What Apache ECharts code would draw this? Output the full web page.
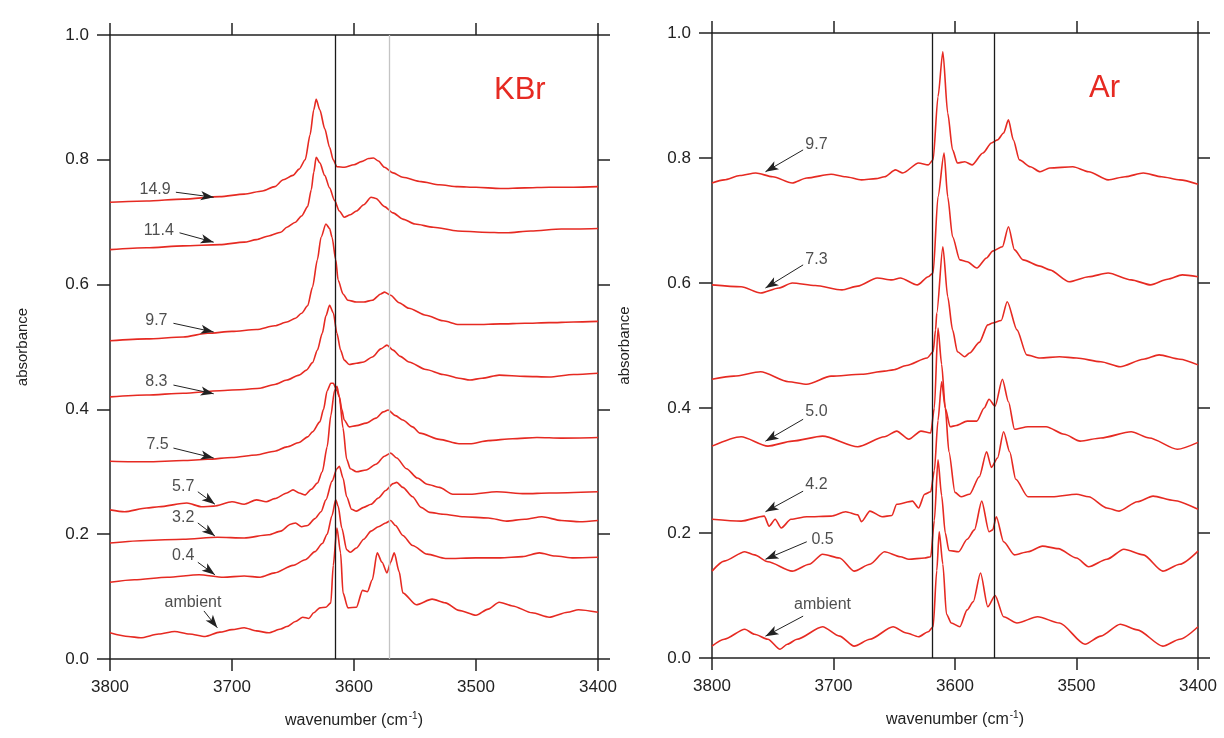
<!DOCTYPE html>
<html>
<head>
<meta charset="utf-8">
<script src="https://cdn.jsdelivr.net/npm/echarts@6/dist/echarts.min.js"></script>
<style>
  html, body { margin: 0; padding: 0; background: #fff; }
  #chart { width: 1224px; height: 738px; }
</style>
</head>
<body>
<div id="chart"></div>
<script>
// ---- KBr panel: [wavenumber, absorbance] ----
var kbr149 = [[3800,0.732],[3770,0.734],[3740,0.737],[3710,0.741],[3690,0.745],[3675,0.750],[3665,0.757],[3658,0.768],[3650,0.775],[3645,0.785],[3640,0.800],[3636,0.840],[3633,0.880],[3631,0.897],[3628,0.880],[3624,0.850],[3620,0.820],[3617,0.800],[3614,0.789],[3608,0.788],[3600,0.792],[3594,0.797],[3588,0.802],[3584,0.803],[3580,0.798],[3575,0.788],[3568,0.779],[3560,0.772],[3545,0.765],[3530,0.760],[3515,0.757],[3500,0.756],[3480,0.754],[3460,0.755],[3440,0.756],[3420,0.756],[3400,0.757]];
var kbr114 = [[3800,0.656],[3770,0.659],[3740,0.662],[3710,0.664],[3690,0.668],[3680,0.672],[3670,0.678],[3660,0.684],[3655,0.692],[3648,0.700],[3643,0.710],[3638,0.725],[3635,0.752],[3633,0.780],[3631,0.804],[3628,0.795],[3624,0.775],[3620,0.755],[3616,0.735],[3612,0.718],[3608,0.708],[3603,0.712],[3598,0.718],[3592,0.728],[3586,0.740],[3582,0.738],[3575,0.725],[3568,0.715],[3560,0.705],[3550,0.697],[3535,0.692],[3515,0.686],[3495,0.684],[3475,0.683],[3455,0.686],[3430,0.689],[3400,0.690]];
var kbr97 = [[3800,0.510],[3770,0.513],[3740,0.516],[3720,0.522],[3700,0.525],[3680,0.528],[3665,0.534],[3655,0.540],[3648,0.546],[3643,0.554],[3638,0.566],[3634,0.596],[3630,0.640],[3627,0.676],[3623,0.697],[3620,0.690],[3618,0.676],[3615,0.640],[3613,0.607],[3609,0.585],[3605,0.575],[3598,0.572],[3592,0.572],[3585,0.575],[3578,0.585],[3575,0.588],[3570,0.583],[3563,0.571],[3555,0.562],[3541,0.551],[3527,0.542],[3514,0.536],[3500,0.536],[3480,0.537],[3460,0.538],[3440,0.539],[3420,0.540],[3400,0.541]];
var kbr83 = [[3800,0.420],[3770,0.423],[3740,0.426],[3710,0.430],[3690,0.432],[3677,0.434],[3665,0.440],[3655,0.447],[3645,0.455],[3639,0.463],[3634,0.475],[3630,0.495],[3626,0.522],[3623,0.550],[3620,0.567],[3617,0.555],[3614,0.522],[3611,0.495],[3608,0.479],[3604,0.472],[3598,0.474],[3592,0.476],[3585,0.484],[3578,0.497],[3573,0.503],[3568,0.495],[3562,0.485],[3555,0.476],[3541,0.464],[3527,0.456],[3514,0.450],[3505,0.447],[3495,0.450],[3481,0.455],[3460,0.453],[3440,0.452],[3420,0.456],[3400,0.458]];
var kbr75 = [[3800,0.317],[3770,0.316],[3740,0.318],[3720,0.320],[3700,0.323],[3680,0.327],[3665,0.333],[3655,0.340],[3645,0.347],[3638,0.356],[3634,0.364],[3628,0.380],[3625,0.400],[3622,0.430],[3619,0.442],[3617,0.442],[3614,0.430],[3612,0.420],[3610,0.400],[3608,0.383],[3604,0.372],[3598,0.374],[3590,0.378],[3582,0.386],[3576,0.396],[3572,0.399],[3566,0.390],[3560,0.383],[3552,0.372],[3546,0.362],[3530,0.352],[3514,0.345],[3505,0.345],[3490,0.350],[3470,0.353],[3450,0.355],[3430,0.354],[3400,0.355]];
var kbr57 = [[3800,0.239],[3788,0.236],[3770,0.242],[3760,0.244],[3737,0.250],[3725,0.244],[3715,0.245],[3700,0.252],[3690,0.248],[3680,0.255],[3672,0.252],[3665,0.257],[3655,0.266],[3650,0.271],[3645,0.266],[3640,0.263],[3635,0.272],[3630,0.282],[3626,0.300],[3622,0.340],[3619,0.390],[3616,0.430],[3614,0.437],[3612,0.420],[3609,0.370],[3606,0.320],[3603,0.305],[3598,0.300],[3590,0.303],[3582,0.312],[3575,0.325],[3570,0.330],[3565,0.322],[3557,0.305],[3548,0.290],[3540,0.280],[3530,0.275],[3519,0.264],[3505,0.264],[3483,0.268],[3460,0.265],[3440,0.266],[3400,0.268]];
var kbr32 = [[3800,0.186],[3770,0.190],[3740,0.192],[3712,0.195],[3690,0.194],[3670,0.199],[3660,0.205],[3652,0.216],[3648,0.218],[3643,0.212],[3638,0.214],[3632,0.225],[3627,0.236],[3623,0.255],[3618,0.285],[3614,0.305],[3612,0.309],[3609,0.290],[3606,0.260],[3602,0.240],[3598,0.237],[3592,0.243],[3586,0.248],[3580,0.258],[3574,0.270],[3568,0.281],[3565,0.283],[3560,0.275],[3552,0.260],[3545,0.243],[3538,0.235],[3527,0.232],[3510,0.228],[3490,0.226],[3475,0.221],[3460,0.224],[3446,0.228],[3430,0.222],[3415,0.220],[3400,0.222]];
var kbr04 = [[3800,0.123],[3780,0.127],[3753,0.131],[3727,0.135],[3707,0.131],[3690,0.133],[3677,0.131],[3665,0.138],[3650,0.150],[3640,0.159],[3632,0.172],[3626,0.185],[3622,0.200],[3618,0.230],[3615,0.255],[3613,0.245],[3610,0.210],[3606,0.175],[3603,0.171],[3598,0.178],[3592,0.192],[3586,0.205],[3580,0.212],[3574,0.218],[3570,0.222],[3566,0.214],[3560,0.198],[3552,0.182],[3540,0.168],[3525,0.161],[3500,0.162],[3480,0.162],[3462,0.164],[3448,0.170],[3435,0.165],[3420,0.162],[3400,0.163]];
var kbrAmb = [[3800,0.042],[3785,0.036],[3775,0.034],[3760,0.040],[3747,0.044],[3735,0.040],[3722,0.036],[3710,0.043],[3700,0.047],[3690,0.050],[3680,0.045],[3670,0.042],[3660,0.048],[3655,0.052],[3648,0.060],[3642,0.067],[3637,0.065],[3633,0.074],[3628,0.082],[3623,0.083],[3619,0.090],[3617,0.150],[3614,0.210],[3611,0.170],[3609,0.106],[3605,0.082],[3598,0.083],[3593,0.110],[3589,0.108],[3585,0.127],[3581,0.170],[3577,0.155],[3573,0.138],[3570,0.155],[3567,0.170],[3563,0.140],[3560,0.106],[3549,0.087],[3536,0.096],[3525,0.090],[3514,0.078],[3500,0.070],[3490,0.080],[3481,0.091],[3470,0.085],[3454,0.074],[3440,0.067],[3425,0.075],[3416,0.079],[3400,0.075]];

// ---- Ar panel ----
var ar97 = [[3800,0.760],[3790,0.765],[3777,0.772],[3764,0.776],[3750,0.770],[3734,0.760],[3722,0.768],[3702,0.774],[3690,0.770],[3677,0.765],[3665,0.767],[3658,0.770],[3649,0.781],[3643,0.776],[3630,0.792],[3622,0.789],[3618,0.797],[3614,0.898],[3610,0.970],[3606,0.872],[3602,0.813],[3598,0.792],[3592,0.794],[3586,0.789],[3577,0.808],[3570,0.824],[3565,0.829],[3560,0.840],[3556,0.861],[3552,0.829],[3547,0.797],[3538,0.786],[3530,0.778],[3522,0.784],[3503,0.786],[3490,0.778],[3474,0.765],[3460,0.770],[3445,0.776],[3430,0.770],[3415,0.765],[3400,0.758]];
var ar73 = [[3800,0.597],[3776,0.594],[3760,0.584],[3745,0.592],[3734,0.600],[3715,0.596],[3693,0.589],[3680,0.595],[3664,0.608],[3652,0.605],[3645,0.608],[3631,0.597],[3622,0.610],[3618,0.616],[3614,0.738],[3609,0.808],[3606,0.738],[3602,0.674],[3596,0.637],[3590,0.634],[3582,0.624],[3574,0.640],[3569,0.651],[3561,0.658],[3556,0.690],[3551,0.653],[3544,0.637],[3530,0.627],[3522,0.621],[3506,0.602],[3490,0.610],[3474,0.616],[3455,0.605],[3439,0.597],[3425,0.606],[3413,0.613],[3400,0.610]];
var arMid = [[3800,0.446],[3782,0.451],[3760,0.458],[3737,0.442],[3722,0.438],[3702,0.451],[3677,0.454],[3658,0.459],[3651,0.461],[3640,0.468],[3623,0.480],[3618,0.490],[3616,0.525],[3615,0.552],[3610,0.658],[3606,0.578],[3602,0.525],[3598,0.490],[3592,0.482],[3588,0.488],[3580,0.505],[3573,0.533],[3569,0.536],[3562,0.540],[3557,0.570],[3549,0.525],[3541,0.485],[3530,0.480],[3514,0.482],[3500,0.480],[3480,0.474],[3464,0.466],[3445,0.478],[3432,0.485],[3415,0.478],[3400,0.469]];
var ar50 = [[3800,0.339],[3776,0.354],[3754,0.339],[3734,0.347],[3709,0.355],[3680,0.338],[3658,0.354],[3648,0.363],[3638,0.350],[3628,0.363],[3620,0.360],[3617,0.400],[3614,0.528],[3611,0.470],[3608,0.400],[3604,0.370],[3599,0.372],[3590,0.379],[3582,0.379],[3576,0.400],[3572,0.414],[3567,0.403],[3561,0.446],[3556,0.410],[3551,0.366],[3540,0.370],[3525,0.370],[3510,0.358],[3497,0.347],[3480,0.352],[3455,0.362],[3440,0.352],[3417,0.334],[3400,0.345]];
var ar42 = [[3800,0.222],[3776,0.219],[3757,0.227],[3753,0.211],[3748,0.222],[3743,0.208],[3735,0.222],[3722,0.226],[3702,0.227],[3690,0.234],[3680,0.229],[3677,0.218],[3670,0.235],[3660,0.226],[3652,0.228],[3648,0.246],[3635,0.251],[3630,0.240],[3625,0.262],[3620,0.266],[3617,0.300],[3614,0.380],[3611,0.442],[3608,0.400],[3605,0.330],[3600,0.265],[3595,0.258],[3588,0.262],[3580,0.290],[3574,0.330],[3570,0.305],[3565,0.320],[3560,0.362],[3555,0.330],[3550,0.286],[3540,0.258],[3520,0.258],[3500,0.262],[3490,0.258],[3475,0.240],[3465,0.235],[3450,0.250],[3437,0.259],[3420,0.252],[3400,0.238]];
var ar05 = [[3800,0.139],[3790,0.155],[3773,0.170],[3765,0.165],[3754,0.154],[3734,0.139],[3720,0.150],[3709,0.166],[3695,0.160],[3683,0.139],[3670,0.150],[3658,0.170],[3645,0.162],[3638,0.158],[3625,0.160],[3620,0.162],[3617,0.220],[3614,0.317],[3611,0.260],[3608,0.200],[3605,0.172],[3597,0.170],[3590,0.190],[3584,0.205],[3578,0.251],[3572,0.202],[3569,0.205],[3566,0.226],[3560,0.186],[3551,0.165],[3540,0.170],[3528,0.179],[3515,0.175],[3500,0.160],[3490,0.146],[3475,0.158],[3461,0.174],[3445,0.165],[3429,0.139],[3415,0.150],[3400,0.171]];
var arAmb = [[3800,0.019],[3790,0.030],[3773,0.046],[3765,0.038],[3754,0.030],[3744,0.014],[3738,0.022],[3730,0.030],[3709,0.050],[3695,0.035],[3683,0.019],[3670,0.030],[3651,0.050],[3640,0.040],[3630,0.034],[3622,0.042],[3618,0.050],[3615,0.140],[3613,0.202],[3610,0.150],[3607,0.070],[3603,0.056],[3596,0.050],[3590,0.077],[3585,0.090],[3579,0.136],[3573,0.082],[3567,0.100],[3560,0.066],[3549,0.056],[3532,0.066],[3514,0.056],[3493,0.022],[3480,0.035],[3464,0.054],[3450,0.045],[3429,0.019],[3415,0.030],[3400,0.050]];

var kbrSeries = [kbr149, kbr114, kbr97, kbr83, kbr75, kbr57, kbr32, kbr04, kbrAmb];
var arSeries = [ar97, ar73, arMid, ar50, ar42, ar05, arAmb];

// reference lines (cm-1)
var kbrLines = [3615, 3571];
var arLines = [3619, 3568];

// annotations: [text, textWn, textAbs, arrowFromWn, arrowFromAbs, tipWn, tipAbs]
var kbrNotes = [
  ['14.9', 3763, 0.752, 3746, 0.748, 3715, 0.740],
  ['11.4', 3760, 0.686, 3743, 0.683, 3715, 0.668],
  ['9.7', 3762, 0.543, 3748, 0.538, 3715, 0.524],
  ['8.3', 3762, 0.444, 3748, 0.439, 3715, 0.425],
  ['7.5', 3761, 0.343, 3748, 0.338, 3715, 0.322],
  ['5.7', 3740, 0.276, 3728, 0.268, 3714, 0.248],
  ['3.2', 3740, 0.226, 3728, 0.218, 3714, 0.197],
  ['0.4', 3740, 0.165, 3728, 0.155, 3714, 0.135],
  ['ambient', 3732, 0.091, 3723, 0.077, 3712, 0.050]
];
var arNotes = [
  ['9.7', 3714, 0.821, 3725, 0.813, 3756, 0.778],
  ['7.3', 3714, 0.637, 3725, 0.629, 3756, 0.592],
  ['5.0', 3714, 0.394, 3725, 0.382, 3756, 0.347],
  ['4.2', 3714, 0.278, 3725, 0.267, 3756, 0.234],
  ['0.5', 3709, 0.190, 3722, 0.186, 3756, 0.158],
  ['ambient', 3709, 0.086, 3725, 0.067, 3756, 0.035]
];

var RED = '#e62a22';
var INK = '#222';
var FONT = 'Liberation Sans, Arial, sans-serif';

var chart = echarts.init(document.getElementById('chart'));

var xAxes = [], yAxes = [], series = [];

function addPanel(g) {
    var xb = {
        type: 'value', gridIndex: g, min: 3400, max: 3800, interval: 100, inverse: true,
        position: 'bottom',
        name: 'wavenumber (cm{sup|-1})', nameLocation: 'middle', nameGap: 52,
        nameTextStyle: { color: INK, fontSize: 16, fontFamily: FONT,
            rich: { sup: { fontSize: 10, color: INK, fontFamily: FONT, verticalAlign: 'top', padding: [0, 0, 9, 1] } } },
        axisLine: { onZero: false, lineStyle: { color: INK, width: 1.5 } },
        axisTick: { length: 12, lineStyle: { color: INK, width: 1.5 } },
        axisLabel: { color: INK, fontSize: 17, fontFamily: FONT, margin: 20,
            formatter: function (v) { return String(v); } },
        splitLine: { show: false }
    };
    var xt = {
        type: 'value', gridIndex: g, min: 3400, max: 3800, interval: 100, inverse: true,
        position: 'top',
        axisLine: { onZero: false, lineStyle: { color: INK, width: 1.5 } },
        axisTick: { length: 12, lineStyle: { color: INK, width: 1.5 } },
        axisLabel: { show: false },
        splitLine: { show: false }
    };
    var yl = {
        type: 'value', gridIndex: g, min: 0, max: 1, interval: 0.2, position: 'left',
        name: 'absorbance', nameLocation: 'middle', nameGap: 80,
        nameTextStyle: { color: INK, fontSize: 15, fontFamily: FONT },
        axisLine: { show: true, onZero: false, lineStyle: { color: INK, width: 1.5 } },
        axisTick: { show: true, length: 13, lineStyle: { color: INK, width: 1.5 } },
        axisLabel: { color: INK, fontSize: 17, fontFamily: FONT, margin: 21,
            formatter: function (v) { return v.toFixed(1); } },
        splitLine: { show: false }
    };
    var yr = {
        type: 'value', gridIndex: g, min: 0, max: 1, interval: 0.2, position: 'right',
        axisLine: { show: true, onZero: false, lineStyle: { color: INK, width: 1.5 } },
        axisTick: { show: true, length: 12, lineStyle: { color: INK, width: 1.5 } },
        axisLabel: { show: false },
        splitLine: { show: false }
    };
    xAxes.push(xb, xt);
    yAxes.push(yl, yr);
}
addPanel(0);
addPanel(1);

function spectra(list, g) {
    list.forEach(function (d) {
        series.push({
            type: 'line', xAxisIndex: g * 2, yAxisIndex: g * 2, data: d,
            showSymbol: false, smooth: 0.25, smoothMonotone: 'x', silent: true, z: 3,
            lineStyle: { color: RED, width: 1.6 }
        });
    });
}

function refLines(vals, colors, g) {
    series.push({
        type: 'line', xAxisIndex: g * 2, yAxisIndex: g * 2, data: [], silent: true, z: 2,
        markLine: {
            symbol: 'none', silent: true, animation: false,
            label: { show: false },
            data: vals.map(function (v, i) {
                return { xAxis: v, lineStyle: { color: colors[i], width: 1.3, type: 'solid' } };
            })
        }
    });
}

function notes(list, g) {
    series.push({
        type: 'scatter', xAxisIndex: g * 2, yAxisIndex: g * 2, symbolSize: 0, silent: true, z: 5,
        data: list.map(function (n) { return { value: [n[1], n[2]], name: n[0] }; }),
        label: { show: true, position: 'inside', formatter: '{b}', color: INK, fontSize: 16, fontFamily: FONT },
        markLine: {
            silent: true, animation: false, symbol: ['none', 'arrow'], symbolSize: [7, 13],
            label: { show: false },
            lineStyle: { color: INK, width: 1, type: 'solid' },
            data: list.map(function (n) {
                return [{ coord: [n[3], n[4]] }, { coord: [n[5], n[6]] }];
            })
        }
    });
}

spectra(kbrSeries, 0);
spectra(arSeries, 1);
refLines(kbrLines, ['#1a1a1a', '#c4c4c4'], 0);
refLines(arLines, ['#1a1a1a', '#1a1a1a'], 1);
notes(kbrNotes, 0);
notes(arNotes, 1);

var option = {
    backgroundColor: '#fff',
    animation: false,
    title: [
        { text: 'KBr', left: 489, top: 70, textStyle: { color: RED, fontSize: 31, fontWeight: 'normal', fontFamily: FONT } },
        { text: 'Ar', left: 1084, top: 68, textStyle: { color: RED, fontSize: 31, fontWeight: 'normal', fontFamily: FONT } }
    ],
    grid: [
        { left: 110, right: 626, top: 35, bottom: 79 },
        { left: 712, right: 26, top: 33, bottom: 80 }
    ],
    xAxis: xAxes,
    yAxis: yAxes,
    series: series
};
chart.setOption(option);
</script>
</body>
</html>
